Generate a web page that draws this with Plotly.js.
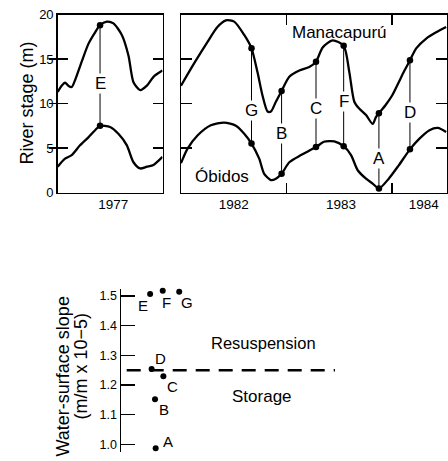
<!DOCTYPE html>
<html>
<head>
<meta charset="utf-8">
<script src="https://cdn.plot.ly/plotly-3.0.1.min.js"></script>
<style>html,body{margin:0;padding:0;background:#fff;}#chart{width:448px;height:461px;}</style>
</head>
<body>
<div id="chart"></div>
<script>
// ---------------- DATA ----------------
// River stage (m), 1977 panel
const manacTime77 = [1977.000, 1977.038, 1977.070, 1977.101, 1977.134, 1977.165, 1977.229, 1977.293, 1977.357, 1977.404, 1977.468, 1977.532, 1977.612, 1977.675, 1977.723, 1977.787, 1977.851, 1977.914, 1978.000];
const manacStage77 = [11.3, 12.0, 12.35, 12.0, 11.85, 12.6, 14.7, 16.7, 18.0, 18.8, 19.2, 19.0, 17.7, 15.4, 12.4, 11.5, 12.0, 13.0, 13.7];
const obidosTime77 = [1977.000, 1977.070, 1977.134, 1977.213, 1977.293, 1977.357, 1977.404, 1977.500, 1977.579, 1977.660, 1977.723, 1977.787, 1977.851, 1977.914, 1978.000];
const obidosStage77 = [2.9, 3.8, 4.2, 5.3, 6.2, 7.0, 7.5, 7.36, 6.6, 5.3, 3.4, 2.7, 2.9, 3.1, 4.0];

// River stage (m), 1982-1984 panel
const manacTime82 = [1982.000, 1982.124, 1982.250, 1982.345, 1982.425, 1982.504, 1982.599, 1982.668, 1982.725, 1982.772, 1982.820, 1982.852, 1982.899, 1982.953, 1983.026, 1983.121, 1983.215, 1983.279, 1983.342, 1983.436, 1983.541, 1983.595, 1983.642, 1983.690, 1983.753, 1983.816, 1983.848, 1983.875, 1983.937, 1984.000, 1984.063, 1984.117, 1984.169, 1984.228, 1984.323, 1984.417, 1984.512];
const manacStage82 = [12.0, 14.5, 16.9, 18.6, 19.35, 19.2, 17.7, 16.2, 13.5, 10.9, 9.1, 9.1, 10.2, 11.4, 13.0, 13.7, 14.1, 14.7, 16.3, 17.1, 16.5, 13.5, 10.2, 9.4, 8.7, 7.7, 8.5, 8.9, 9.8, 10.9, 12.4, 13.7, 14.85, 16.2, 17.3, 18.0, 18.6];
const obidosTime82 = [1982.000, 1982.061, 1982.156, 1982.283, 1982.409, 1982.520, 1982.599, 1982.668, 1982.741, 1982.788, 1982.852, 1982.899, 1982.953, 1983.026, 1983.137, 1983.279, 1983.354, 1983.453, 1983.541, 1983.611, 1983.674, 1983.753, 1983.816, 1983.875, 1983.968, 1984.063, 1984.169, 1984.259, 1984.354, 1984.433, 1984.512];
const obidosStage82 = [3.3, 4.9, 6.4, 7.55, 7.85, 7.5, 6.6, 5.5, 3.8, 2.1, 1.4, 1.55, 2.1, 3.4, 4.2, 5.1, 5.7, 5.75, 5.2, 4.2, 2.5, 1.55, 1.0, 0.45, 1.55, 3.05, 4.85, 6.05, 7.0, 7.25, 6.8];

// Sampling events
const eventLabels = ['E', 'G', 'B', 'C', 'F', 'A', 'D'];
const eventTimes = [1977.404, 1982.668, 1982.953, 1983.279, 1983.541, 1983.875, 1984.169];
const eventManac = [18.8, 16.2, 11.4, 14.7, 16.5, 8.9, 14.85];
const eventObidos = [7.5, 5.5, 2.1, 5.1, 5.2, 0.45, 4.85];

// Water-surface slope (m/m x 10^-5)
const slopeLabels = ['A', 'B', 'C', 'D', 'E', 'F', 'G'];
const slopeValues = [0.987, 1.152, 1.230, 1.254, 1.507, 1.518, 1.515];
const slopeJitter = [1.62, 1.59, 1.98, 1.43, 1.36, 1.95, 2.72];
const slopeThreshold = 1.25;

// Tick labels
const yearTicks77 = [1977.53];
const yearText77 = ['1977'];
const yearTicks82 = [1982.5, 1983.516, 1984.3];
const yearText82 = ['1982', '1983', '1984'];
const yearBounds82 = [1983, 1984];
const stageTicks = [0, 5, 10, 15, 20];
const stageInnerTicks = [5, 10, 15];
const slopeTicks = [1.0, 1.1, 1.2, 1.3, 1.4, 1.5];

// ---------------- LAYOUT HELPERS (positions/styles) ----------------
const FONT = 'Liberation Sans, Arial, Helvetica, sans-serif';
const BLACK = '#000';
const W = 448, H = 461;
const px = v => v / W;             // x pixel -> paper
const py = v => 1 - v / H;         // y pixel -> paper
const topDomainY = [py(192.5), py(14.5)];
const eventLabelY = {E: 12.2, G: 9.2, B: 6.6, C: 9.4, F: 10.2, A: 3.8, D: 9.0};
const slopeLabelShift = {A: [12, 7], B: [9, -10], C: [9.5, -10], D: [9, 11], E: [-7, -11], F: [3.5, -12], G: [7.5, -11]};

const curveLine = {color: BLACK, width: 2.3, shape: 'spline', smoothing: 0.7};

const traces = [];
// Curves are attached to the overlaid label/tick axes (identical ranges) so those axes are rendered.
traces.push({x: manacTime77, y: manacStage77, xaxis: 'x5', yaxis: 'y', mode: 'lines', line: curveLine, hoverinfo: 'skip'});
traces.push({x: obidosTime77, y: obidosStage77, xaxis: 'x', yaxis: 'y4', mode: 'lines', line: curveLine, hoverinfo: 'skip'});
traces.push({x: manacTime82, y: manacStage82, xaxis: 'x2', yaxis: 'y2', mode: 'lines', line: curveLine, hoverinfo: 'skip'});
traces.push({x: obidosTime82, y: obidosStage82, xaxis: 'x4', yaxis: 'y2', mode: 'lines', line: curveLine, hoverinfo: 'skip'});

const annotations = [];
const txt = (o) => Object.assign({showarrow: false, xanchor: 'center', yanchor: 'middle'}, o);
eventTimes.forEach((t, i) => {
  const ax = t < 1980 ? 'x' : 'x2';
  const ay = t < 1980 ? 'y' : 'y2';
  traces.push({
    x: [t, t], y: [eventObidos[i], eventManac[i]], xaxis: ax, yaxis: ay,
    mode: 'lines+markers', line: {color: BLACK, width: 1},
    marker: {color: BLACK, size: 6.5}, hoverinfo: 'skip'
  });
  annotations.push(txt({
    x: t, y: eventLabelY[eventLabels[i]], xref: ax, yref: ay, text: eventLabels[i],
    bgcolor: '#fff', borderpad: 0,
    font: {family: FONT, size: 17, color: BLACK}
  }));
});

traces.push({
  x: slopeJitter, y: slopeValues, xaxis: 'x3', yaxis: 'y3', mode: 'markers',
  marker: {color: BLACK, size: 6}, cliponaxis: false, hoverinfo: 'skip'
});
slopeLabels.forEach((lab, i) => {
  annotations.push(txt({
    x: slopeJitter[i], y: slopeValues[i], xref: 'x3', yref: 'y3', text: lab,
    xshift: slopeLabelShift[lab][0], yshift: slopeLabelShift[lab][1],
    font: {family: FONT, size: 15, color: BLACK}
  }));
});

// text labels
annotations.push(txt({x: 1983.5, y: 18.0, xref: 'x2', yref: 'y2', text: 'Manacapurú',
  font: {family: FONT, size: 17, color: BLACK}}));
annotations.push(txt({x: 1982.393, y: 1.8, xref: 'x2', yref: 'y2', text: 'Óbidos',
  font: {family: FONT, size: 17, color: BLACK}}));
annotations.push(txt({x: px(26), y: py(103.5), xref: 'paper', yref: 'paper', text: 'River stage (m)', textangle: -90,
  font: {family: FONT, size: 18, color: BLACK}}));
annotations.push(txt({x: px(62.5), y: py(377), xref: 'paper', yref: 'paper', text: 'Water-surface slope', textangle: -90,
  font: {family: FONT, size: 18, color: BLACK}}));
annotations.push(txt({x: px(80.5), y: py(366), xref: 'paper', yref: 'paper', text: '(m/m x 10−5)', textangle: -90,
  font: {family: FONT, size: 18, color: BLACK}}));
annotations.push(txt({x: px(263), y: py(343), xref: 'paper', yref: 'paper', text: 'Resuspension',
  font: {family: FONT, size: 16.5, color: BLACK}}));
annotations.push(txt({x: px(262), y: py(396), xref: 'paper', yref: 'paper', text: 'Storage',
  font: {family: FONT, size: 17, color: BLACK}}));

const axisBase = {showgrid: false, zeroline: false, linecolor: BLACK, linewidth: 1.5, tickcolor: BLACK,
  tickfont: {family: FONT, size: 13, color: BLACK}, fixedrange: true};
const yearFont = {family: FONT, size: 13.5, color: BLACK};

const layout = {
  width: W, height: H,
  margin: {l: 0, r: 0, t: 0, b: 0, pad: 0},
  paper_bgcolor: '#fff', plot_bgcolor: 'rgba(0,0,0,0)',
  showlegend: false,
  font: {family: FONT, color: BLACK},
  xaxis: Object.assign({}, axisBase, {domain: [px(57.7), px(162.5)], range: [1977, 1978], anchor: 'y',
    showline: true, mirror: true, ticks: '', showticklabels: false}),
  xaxis5: Object.assign({}, axisBase, {overlaying: 'x', anchor: 'y', side: 'bottom', range: [1977, 1978],
    showline: false, ticks: '', tickmode: 'array', tickvals: yearTicks77, ticktext: yearText77,
    ticklabelstandoff: 2, tickfont: yearFont}),
  yaxis: Object.assign({}, axisBase, {domain: topDomainY, range: [0, 20], anchor: 'x',
    showline: true, mirror: 'ticks', ticks: 'inside', ticklen: 10, tickwidth: 1.3, ticklabelstandoff: 0,
    tickmode: 'array', tickvals: stageTicks}),
  yaxis4: Object.assign({}, axisBase, {overlaying: 'y', anchor: 'x', side: 'left', range: [0, 20],
    showline: false, ticks: 'outside', ticklen: 8, tickwidth: 1.3, showticklabels: false,
    tickmode: 'array', tickvals: stageInnerTicks}),
  xaxis2: Object.assign({}, axisBase, {domain: [px(181), px(447)], range: [1982.0, 1984.52], anchor: 'y2',
    showline: true, mirror: 'ticks', ticks: 'inside', ticklen: 10, tickwidth: 1.3, showticklabels: false,
    tickmode: 'array', tickvals: yearBounds82}),
  xaxis4: Object.assign({}, axisBase, {overlaying: 'x2', anchor: 'y2', side: 'bottom', range: [1982.0, 1984.52],
    showline: false, ticks: '', tickmode: 'array', tickvals: yearTicks82, ticktext: yearText82,
    ticklabelstandoff: 2, tickfont: yearFont}),
  yaxis2: Object.assign({}, axisBase, {domain: topDomainY, range: [0, 20], anchor: 'x2',
    showline: true, mirror: 'ticks', ticks: 'inside', ticklen: 11, tickwidth: 1.3, showticklabels: false,
    tickmode: 'array', tickvals: stageInnerTicks}),
  xaxis3: Object.assign({}, axisBase, {domain: [px(121), px(335)], range: [0, 10], anchor: 'y3', visible: false}),
  yaxis3: Object.assign({}, axisBase, {domain: [py(451.7), py(288.7)], range: [0.975, 1.525], anchor: 'x3',
    showline: true, ticks: 'inside', ticklen: 14, tickwidth: 1.3, tickmode: 'array', tickvals: slopeTicks,
    tickformat: '.1f', tickfont: {family: FONT, size: 12.5, color: BLACK}}),
  shapes: [{type: 'line', xref: 'paper', yref: 'y3', x0: px(126.7), x1: px(335), y0: slopeThreshold, y1: slopeThreshold,
    line: {color: BLACK, width: 2.5, dash: '14px,9px'}}],
  annotations: annotations
};

Plotly.newPlot('chart', traces, layout, {staticPlot: true, displayModeBar: false});
</script>
</body>
</html>
